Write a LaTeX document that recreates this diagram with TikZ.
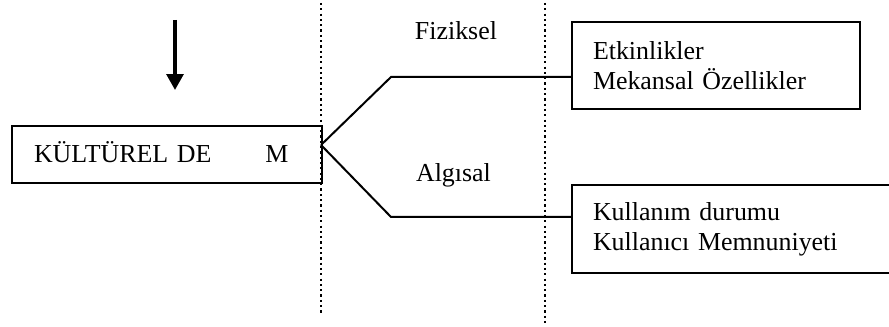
\documentclass[tikz,border=0pt]{standalone}
\usepackage{fontspec}
\setmainfont{Liberation Serif}
\usetikzlibrary{arrows.meta}
\newlength{\du}
\setlength{\du}{0.4633pt}
\tikzset{
  diabox/.style={draw, line width=2\du, anchor=north west, inner ysep=0pt, align=left},
  dialine/.style={line width=2\du},
  dialabel/.style={inner sep=0pt, anchor=base},
  diadots/.style={line width=2.4\du, dash pattern=on 2.2\du off 3.1\du},
}

\begin{document}
\begin{tikzpicture}[every node/.style={font=\fontsize{12}{13.9}\selectfont}]
\pgftransformxscale{1.000000}
\pgftransformyscale{-1.000000}
\useasboundingbox (0\du,0\du) rectangle (889\du,327\du);
\clip (0\du,0\du) rectangle (889\du,327\du);
% down arrow
\coordinate (arrowtop) at (175\du,20\du);
\coordinate (arrowtip) at (175\du,90\du);
\draw[line width=3.5\du, -{Triangle[width=7.8pt,length=7.4pt]}] (arrowtop) -- (arrowtip);
% dotted separators
\coordinate (sepatop) at (321\du,3\du);
\coordinate (sepabot) at (321\du,314\du);
\coordinate (sepbtop) at (545\du,3\du);
\coordinate (sepbbot) at (545\du,325\du);
\draw[diadots] (sepatop) -- (sepabot);
\draw[diadots] (sepbtop) -- (sepbbot);
% main box
\node[diabox, inner xsep=22\du, minimum width=310\du, minimum height=57\du,
      text width=266\du, text height=17.7\du, text depth=2.3\du] (kultur)
  at (11\du,125.5\du) {KÜLTÜREL DE\hspace{2.08em}M};
% right boxes
\node[diabox, inner xsep=21\du, minimum width=288\du, minimum height=87\du,
      text width=246\du] (fizbox)
  at (571\du,21\du) {Etkinlikler\\Mekansal Özellikler};
\node[diabox, inner xsep=21\du, minimum width=340\du, minimum height=87.7\du,
      text width=298\du] (algbox)
  at (571\du,184\du) {Kullanım durumu\\Kullanıcı Memnuniyeti};
% branch labels
\node[dialabel] (fiziksel) at (456\du,39.5\du) {Fiziksel};
\node[dialabel] (algisal) at (453.5\du,181.7\du) {Algısal};
% branches
\coordinate (fork) at (321\du,145\du);
\coordinate (fizcorner) at (391\du,77\du);
\coordinate (algcorner) at (391\du,217\du);
\draw[dialine] (fork) -- (fizcorner) -- (fizcorner -| fizbox.west);
\draw[dialine] (fork) -- (algcorner) -- (algcorner -| algbox.west);
\end{tikzpicture}
\end{document}
